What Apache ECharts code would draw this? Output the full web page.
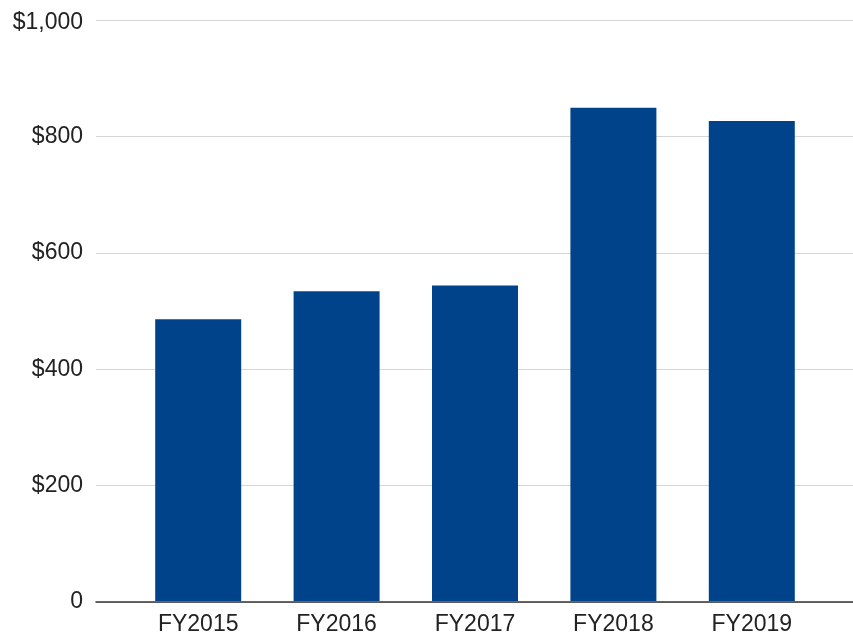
<!DOCTYPE html>
<html>
<head>
<meta charset="utf-8">
<script src="https://cdn.jsdelivr.net/npm/echarts@6/dist/echarts.min.js"></script>
<style>
html,body{margin:0;padding:0;background:#fff;}
#chart{width:853px;height:636px;}
</style>
</head>
<body>
<div id="chart"></div>
<script>
const categories = ['FY2015', 'FY2016', 'FY2017', 'FY2018', 'FY2019'];
const values = [485, 533, 543, 849, 826];
const yTicks = [0, 200, 400, 600, 800, 1000];

const FONT = '"Liberation Sans", Arial, sans-serif';
const chart = echarts.init(document.getElementById('chart'));
chart.setOption({
  animation: false,
  backgroundColor: '#ffffff',
  grid: [
    { left: 96, right: 0, top: 20, bottom: 34 },
    { left: 129, right: 32, top: 20, bottom: 34 }
  ],
  xAxis: [
    {
      gridIndex: 0, type: 'value', min: 0, max: 1,
      axisLine: { show: true, onZero: false, lineStyle: { color: '#333333', width: 1.5 } },
      axisTick: { show: false }, axisLabel: { show: false }, splitLine: { show: false }
    },
    {
      gridIndex: 1, type: 'category', data: categories,
      axisLine: { show: false }, axisTick: { show: false }, splitLine: { show: false },
      axisLabel: { color: '#222222', fontSize: 23, fontFamily: FONT, margin: 12 }
    }
  ],
  yAxis: [
    {
      gridIndex: 0, type: 'value', min: yTicks[0], max: yTicks[yTicks.length - 1], interval: 200,
      axisLine: { show: false }, axisTick: { show: false },
      splitLine: { show: true, lineStyle: { color: '#d6d6d6', width: 1.2 } },
      axisLabel: {
        color: '#222222', fontSize: 23, fontFamily: FONT, margin: 13,
        formatter: v => {
          const s = v === 0 ? '0' : '$' + v.toLocaleString('en-US');
          return v === yTicks[yTicks.length - 1] ? '{top|' + s + '}' : s;
        },
        rich: {
          top: { color: '#222222', fontSize: 23, fontFamily: FONT, padding: [6, 0, 0, 0] }
        }
      }
    },
    {
      gridIndex: 1, type: 'value', min: 0, max: 1000, show: false
    }
  ],
  series: [
    {
      type: 'bar', xAxisIndex: 1, yAxisIndex: 1, data: values,
      barWidth: 86, itemStyle: { color: '#00438a' }, z: 3
    }
  ]
});
</script>
</body>
</html>
